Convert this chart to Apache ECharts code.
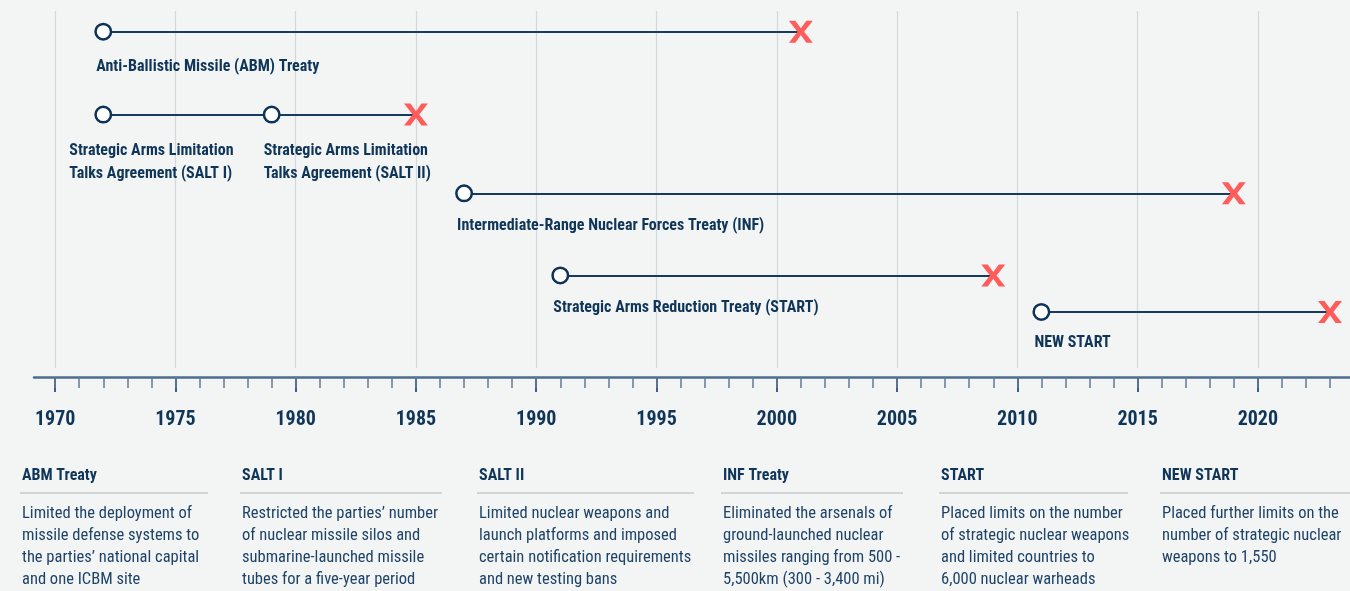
<!DOCTYPE html>
<html><head><meta charset="utf-8">
<script src="https://cdn.jsdelivr.net/npm/echarts@6/dist/echarts.min.js"></script>
<style>html,body{margin:0;padding:0;background:#f3f4f4}#c{width:1350px;height:591px}</style></head>
<body><div id="c"></div>
<script>
// ---- data ----
const treatyNames = [
  'Anti-Ballistic Missile (ABM) Treaty',
  'Strategic Arms Limitation\nTalks Agreement (SALT I)',
  'Strategic Arms Limitation\nTalks Agreement (SALT II)',
  'Intermediate-Range Nuclear Forces Treaty (INF)',
  'Strategic Arms Reduction Treaty (START)',
  'NEW START'
];
const startYears = [1972, 1972, 1979, 1987, 1991, 2011];
const endYears   = [2001, 1979, 1985, 2019, 2009, 2023];
const rowLevels  = [0, 1.02, 1.02, 1.99, 3, 3.45];
const endedFlags = [true, false, true, true, true, true];
const tickYears  = [1970, 1975, 1980, 1985, 1990, 1995, 2000, 2005, 2010, 2015, 2020];
const minorYears = [1970,1971,1972,1973,1974,1975,1976,1977,1978,1979,1980,1981,1982,1983,1984,1985,1986,1987,1988,1989,
  1990,1991,1992,1993,1994,1995,1996,1997,1998,1999,2000,2001,2002,2003,2004,2005,2006,2007,2008,2009,2010,2011,2012,
  2013,2014,2015,2016,2017,2018,2019,2020,2021,2022,2023];
const infoTitles = ['ABM Treaty', 'SALT I', 'SALT II', 'INF Treaty', 'START', 'NEW START'];
const infoTexts = [
  'Limited the deployment of\nmissile defense systems to\nthe parties’ national capital\nand one ICBM site',
  'Restricted the parties’ number\nof nuclear missile silos and\nsubmarine-launched missile\ntubes for a five-year period',
  'Limited nuclear weapons and\nlaunch platforms and imposed\ncertain notification requirements\nand new testing bans',
  'Eliminated the arsenals of\nground-launched nuclear\nmissiles ranging from 500 -\n5,500km (300 - 3,400 mi)',
  'Placed limits on the number\nof strategic nuclear weapons\nand limited countries to\n6,000 nuclear warheads',
  'Placed further limits on the\nnumber of strategic nuclear\nweapons to 1,550'
];

// ---- layout / style ----
const FONT = 'Roboto Condensed';
const NAVY = '#0f3559';
const XMIN = 1969.12, XMAX = 2023.83;
const colX = [22, 242, 479, 723, 941, 1162];
const colW = [188, 202, 217, 182, 189, 190];
const labelOffsets = [[-7, 15], [-34, 16], [-8, 16], [-7, 12], [-7, 12], [-7, 11]];
const xPath = 'path://M0,0 L6.5,0 L12,7.6 L17.5,0 L24,0 L15.3,11 L24,22 L17.5,22 L12,14.4 L6.5,22 L0,22 L8.7,11 Z';

const chart = echarts.init(document.getElementById('c'));

const lineData = startYears.map((s, i) => ({coords: [[s, rowLevels[i]], [endYears[i], rowLevels[i]]]}));
const startData = startYears.map((s, i) => ({value: [s, rowLevels[i]], name: treatyNames[i],
  label: {offset: labelOffsets[i]}}));
const endData = endYears.map((e, i) => endedFlags[i] ? [e, rowLevels[i]] : null).filter(d => d);

const graphics = [];
infoTitles.forEach((t, i) => {
  graphics.push({type: 'text', left: colX[i], top: 468, silent: true,
    style: {text: t, font: 'bold 16px "' + FONT + '"', fill: NAVY}});
  graphics.push({type: 'line', silent: true,
    shape: {x1: colX[i] - 2, y1: 493, x2: colX[i] - 2 + colW[i], y2: 493},
    style: {stroke: '#c6cacd', lineWidth: 1.5}});
  graphics.push({type: 'text', left: colX[i], top: 503, silent: true,
    style: {text: infoTexts[i], font: '16.5px "' + FONT + '"', fill: '#1e4368', lineHeight: 22}});
});

chart.setOption({
  backgroundColor: '#f3f4f4',
  animation: false,
  grid: [
    {left: 34, right: 0, top: 11, bottom: 591 - 368, containLabel: false, outerBoundsMode: 'none'},
    {left: 34, right: 0, top: 300, bottom: 591 - 377, containLabel: false, outerBoundsMode: 'none'}
  ],
  xAxis: [
    {gridIndex: 0, type: 'value', min: XMIN, max: XMAX, show: false},
    {gridIndex: 1, type: 'value', min: XMIN, max: XMAX, position: 'bottom',
     axisLine: {show: true, lineStyle: {color: '#4d6d8e', width: 2.5}},
     splitLine: {show: false},
     axisTick: {show: true, length: 15, customValues: tickYears, lineStyle: {color: '#3f6084', width: 2}},
     axisLabel: {show: true, customValues: tickYears, margin: 33, color: NAVY,
       fontFamily: FONT, fontWeight: 'bold', fontSize: 20, formatter: v => String(v)}},
    {gridIndex: 1, type: 'value', min: XMIN, max: XMAX, position: 'bottom',
     axisLine: {show: false}, splitLine: {show: false}, axisLabel: {show: false},
     axisTick: {show: true, length: 11, customValues: minorYears, lineStyle: {color: '#5d7b99', width: 1.5}}}
  ],
  yAxis: [
    {gridIndex: 0, type: 'value', inverse: true, min: -0.255, max: 4.14, show: false},
    {gridIndex: 1, type: 'value', min: 0, max: 1, show: false}
  ],
  series: [
    {type: 'scatter', xAxisIndex: 0, yAxisIndex: 0, data: [], silent: true, z: 0, zlevel: 0,
     markLine: {silent: true, symbol: ['none', 'none'], label: {show: false}, animation: false, z: 0,
       lineStyle: {color: '#d5d8da', width: 1.2, type: 'solid'},
       data: tickYears.map(v => ({xAxis: v}))}},
    {type: 'lines', coordinateSystem: 'cartesian2d', xAxisIndex: 0, yAxisIndex: 0,
     data: lineData, silent: true, lineStyle: {color: '#173a5e', width: 2, opacity: 1}, z: 2},
    {type: 'scatter', xAxisIndex: 0, yAxisIndex: 0, data: endData, symbol: xPath,
     symbolSize: [24, 22], itemStyle: {color: '#ff5c5c', opacity: 1}, silent: true, z: 3},
    {type: 'scatter', xAxisIndex: 0, yAxisIndex: 0, data: startData, symbol: 'circle',
     symbolSize: 15.5, silent: true, z: 4,
     itemStyle: {color: '#ffffff', borderColor: '#0d3257', borderWidth: 2.5, opacity: 1},
     label: {show: true, position: 'bottom', distance: 0, align: 'left',
       formatter: '{b}', color: NAVY, fontFamily: FONT, fontWeight: 'bold', fontSize: 16, lineHeight: 23}}
  ],
  graphic: graphics
});
</script></body></html>
